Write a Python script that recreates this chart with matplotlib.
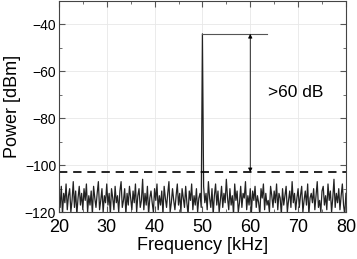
import matplotlib
matplotlib.use('Agg')
import numpy as np
import matplotlib.pyplot as plt
from matplotlib.ticker import MultipleLocator

# noise floor samples, 0.25 kHz spacing, 20.00 .. 49.75 kHz
noise_low = [
    -114, -118, -109, -121, -112, -116, -108, -119, -113, -110, -120, -115, -107, -118, -111, -121, -114, -109, -117, -112,
    -119, -110, -115, -108, -120, -113, -117, -111, -121, -109, -114, -118, -112, -107, -119, -115, -110, -120, -113, -116,
    -108, -117, -112, -121, -110, -114, -119, -109, -116, -113, -120, -111, -107, -118, -115, -110, -121, -112, -117, -109,
    -114, -119, -111, -116, -108, -120, -113, -110, -118, -115, -106, -119, -112, -117, -109, -121, -114, -111, -116, -120,
    -110, -115, -108, -119, -113, -117, -111, -121, -109, -114, -118, -112, -107, -120, -116, -110, -115, -119, -113, -108,
    -117, -112, -120, -110, -114, -118, -109, -116, -121, -111, -115, -108, -119, -113, -117, -110, -120, -114, -112, -118,
]
peak_power = -44
# 50.25 .. 80.00 kHz
noise_high = [
    -109, -116, -112, -119, -107, -114, -118, -110, -121, -113, -108, -117, -111, -120, -115, -109, -118, -112, -116, -106,
    -114, -119, -110, -117, -113, -121, -108, -115, -111, -120, -116, -109, -118, -112, -114, -107, -119, -113, -117, -110,
    -120, -111, -115, -109, -118, -113, -116, -121, -110, -114, -108, -119, -112, -117, -115, -120, -109, -113, -118, -111,
    -116, -108, -119, -112, -114, -121, -110, -117, -113, -109, -120, -115, -111, -118, -107, -116, -112, -119, -114, -110,
    -118, -113, -109, -120, -115, -111, -117, -108, -121, -114, -112, -116, -110, -119, -113, -107, -118, -115, -120, -111,
    -109, -117, -113, -119, -108, -115, -111, -120, -114, -106, -118, -112, -116, -110, -119, -113, -108, -117, -121, -112,
]
power = noise_low + [peak_power] + noise_high
freq = np.linspace(20, 80, len(power))

floor_level = -103
marker_end = 63.5
arrow_x = 60

plt.rcParams['font.family'] = ['Liberation Sans', 'DejaVu Sans']

fig = plt.figure(figsize=(3.57, 2.59), dpi=100)
ax = fig.add_axes([0.165, 0.181, 0.804, 0.815])

ax.plot(freq, power, color='#222222', linewidth=0.9)
ax.axhline(floor_level, color='black', linestyle=(0, (5, 3.5)), linewidth=1.2)
ax.plot([50, marker_end], [peak_power, peak_power], color='#555555', linewidth=0.8)
ax.annotate('', xy=(arrow_x, peak_power), xytext=(arrow_x, floor_level),
            arrowprops=dict(arrowstyle='<|-|>', color='black', lw=0.6,
                            mutation_scale=6, shrinkA=0, shrinkB=0))
ax.text(63.7, -69, '>60 dB', fontsize=12.5, va='center', ha='left')

ax.set_xlim(20, 80)
ax.set_ylim(-120, -30)
ax.set_xticks([20, 30, 40, 50, 60, 70, 80])
ax.set_yticks([-120, -100, -80, -60, -40])
ax.xaxis.set_minor_locator(MultipleLocator(5))
ax.yaxis.set_minor_locator(MultipleLocator(10))
ax.grid(True, which='major', color='#e8e8e8', linewidth=0.6)
ax.set_axisbelow(True)
ax.tick_params(which='both', direction='in', top=True, right=True, color='#555555')
ax.tick_params(which='major', length=4)
ax.tick_params(which='minor', length=2.5)
ax.tick_params(axis='x', labelsize=13, pad=5)
ax.tick_params(axis='y', labelsize=10, pad=2)
for s in ax.spines.values():
    s.set_color('#444444')

ax.set_xlabel('Frequency [kHz]', fontsize=13, labelpad=1)
ax.set_ylabel('Power [dBm]', fontsize=13, labelpad=3)

fig.savefig('out.png', dpi=100)
plt.close(fig)
